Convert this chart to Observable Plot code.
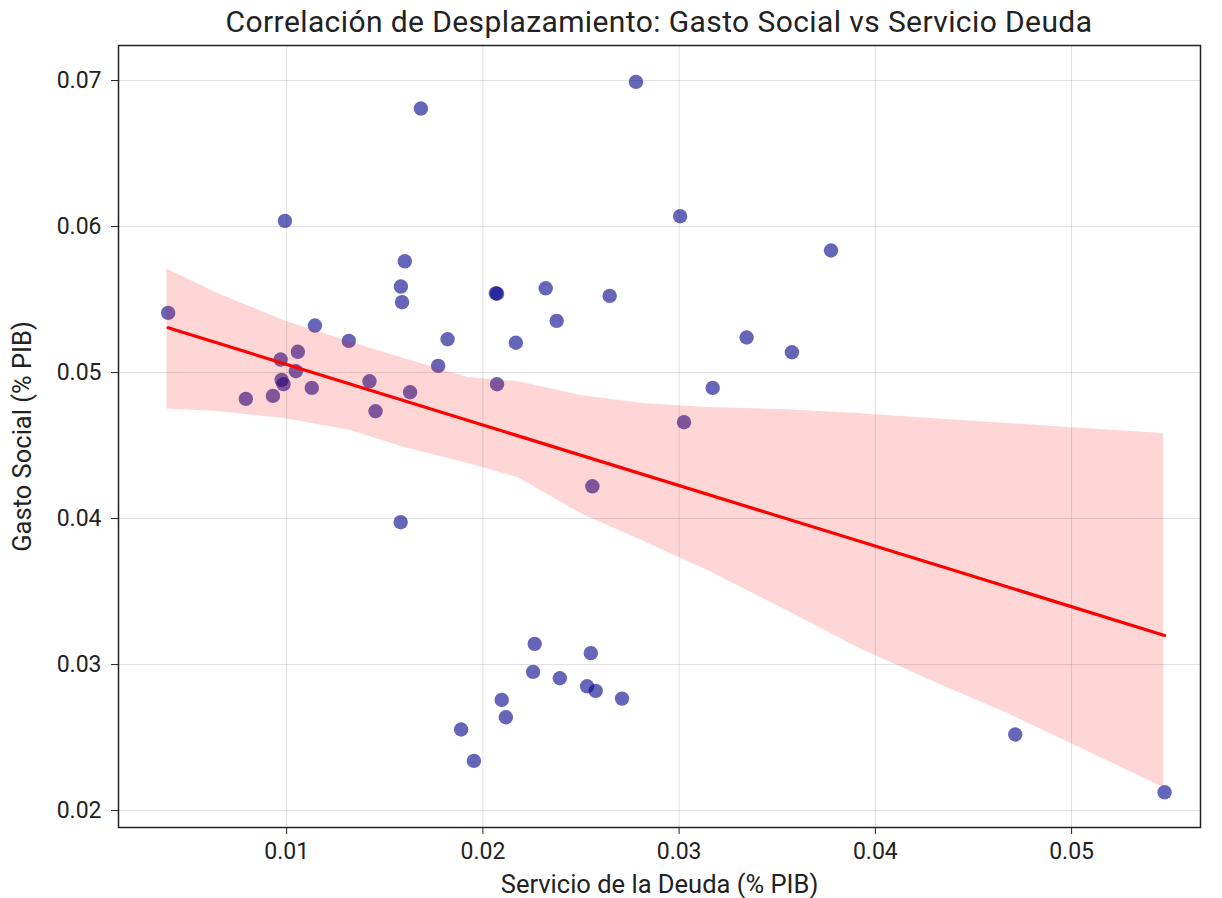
<!DOCTYPE html>
<html>
<head>
<meta charset="utf-8">
<script src="https://cdn.jsdelivr.net/npm/d3@7"></script>
<script src="https://cdn.jsdelivr.net/npm/@observablehq/plot@0.6"></script>
<style>
  body { margin: 0; background: #fff; }
  #title { width: 1222px; box-sizing: border-box; padding-left: 96px; text-align: center;
           font-family: Roboto, sans-serif; font-size: 30px; letter-spacing: 0.4px; color: #222; height: 40px; line-height: 44px; }
</style>
</head>
<body>
<div id="title">Correlación de Desplazamiento: Gasto Social vs Servicio Deuda</div>
<div id="chart"></div>
<script>
// Servicio de la Deuda (% PIB)
const debt = [0.00396, 0.01684, 0.00991, 0.01602, 0.01582, 0.01588, 0.02066, 0.02072, 0.01144, 0.01317,
  0.01820, 0.02168, 0.00969, 0.01057, 0.01772, 0.01047, 0.00974, 0.00984, 0.01422, 0.00792,
  0.00930, 0.01128, 0.01629, 0.01453, 0.02072, 0.02780, 0.03005, 0.03774, 0.02320, 0.02646,
  0.02376, 0.03344, 0.03575, 0.03171, 0.03025, 0.01581, 0.02096, 0.02117, 0.01889, 0.01954,
  0.02558, 0.02264, 0.02256, 0.02392, 0.02550, 0.02531, 0.02575, 0.02709, 0.04713, 0.05474];
// Gasto Social (% PIB)
const social = [0.05409, 0.06808, 0.06039, 0.05762, 0.05589, 0.05482, 0.05543, 0.05540, 0.05322, 0.05217,
  0.05228, 0.05204, 0.05089, 0.05142, 0.05046, 0.05009, 0.04950, 0.04920, 0.04940, 0.04820,
  0.04840, 0.04895, 0.04865, 0.04735, 0.04920, 0.06991, 0.06071, 0.05836, 0.05577, 0.05525,
  0.05354, 0.05240, 0.05139, 0.04895, 0.04660, 0.03975, 0.02758, 0.02639, 0.02555, 0.02340,
  0.04221, 0.03142, 0.02950, 0.02906, 0.03078, 0.02851, 0.02820, 0.02767, 0.02521, 0.02125];
// Confidence band (bootstrap)
const bandX    = [0.00390, 0.00650, 0.00986, 0.01327, 0.01582, 0.01923, 0.02178, 0.02499, 0.02820, 0.03146, 0.03518, 0.03910, 0.04282, 0.04674, 0.05071, 0.05469];
const bandLow  = [0.04750, 0.04733, 0.04685, 0.04603, 0.04493, 0.04377, 0.04281, 0.04034, 0.03842, 0.03644, 0.03390, 0.03116, 0.02890, 0.02664, 0.02411, 0.02158];
const bandHigh = [0.05709, 0.05541, 0.05356, 0.05208, 0.05103, 0.04966, 0.04938, 0.04842, 0.04788, 0.04760, 0.04747, 0.04719, 0.04685, 0.04651, 0.04616, 0.04582];
const xTicks = [0.01, 0.02, 0.03, 0.04, 0.05];
const yTicks = [0.02, 0.03, 0.04, 0.05, 0.06, 0.07];
const xLabel = "Servicio de la Deuda (% PIB)";
const yLabel = "Gasto Social (% PIB)";

const points = debt.map((d, i) => ({debt: d, social: social[i]}));
const band = bandX.map((x, i) => ({x, lo: bandLow[i], hi: bandHigh[i]}));
const fmt = d3.format(".2f");

const chart = Plot.plot({
  width: 1222,
  height: 858,
  marginTop: 5,
  marginLeft: 118,
  marginRight: 22,
  marginBottom: 71,
  style: {fontFamily: "Roboto, sans-serif", color: "#222", background: "#fff"},
  x: {domain: [0.00143, 0.05657]},
  y: {domain: [0.01884, 0.0724]},
  marks: [
    Plot.gridX(xTicks, {stroke: "#000", strokeOpacity: 0.12, strokeWidth: 1}),
    Plot.gridY(yTicks, {stroke: "#000", strokeOpacity: 0.12, strokeWidth: 1}),
    Plot.dot(points, {x: "debt", y: "social", r: 7.2, fill: "#00008b", fillOpacity: 0.6, stroke: "none"}),
    Plot.areaY(band, {x: "x", y1: "lo", y2: "hi", fill: "red", fillOpacity: 0.16}),
    Plot.linearRegressionY(points, {x: "debt", y: "social", ci: 0, stroke: "red", strokeWidth: 3.2}),
    Plot.axisX(xTicks, {tickSize: 7, tickPadding: 8, tickFormat: fmt, fontSize: 23, label: null}),
    Plot.axisY(yTicks, {tickSize: 7, tickPadding: 10, tickFormat: fmt, fontSize: 23, label: null}),
    Plot.text([xLabel], {frameAnchor: "bottom", dy: 57, lineAnchor: "middle", textAnchor: "middle", fontSize: 25.5, fill: "#222"}),
    Plot.text([yLabel], {frameAnchor: "left", dx: -96, rotate: -90, lineAnchor: "middle", textAnchor: "middle", fontSize: 25.5, fill: "#222"}),
    Plot.frame({stroke: "#222", strokeWidth: 1.5})
  ]
});
document.getElementById("chart").appendChild(chart);
</script>
</body>
</html>
